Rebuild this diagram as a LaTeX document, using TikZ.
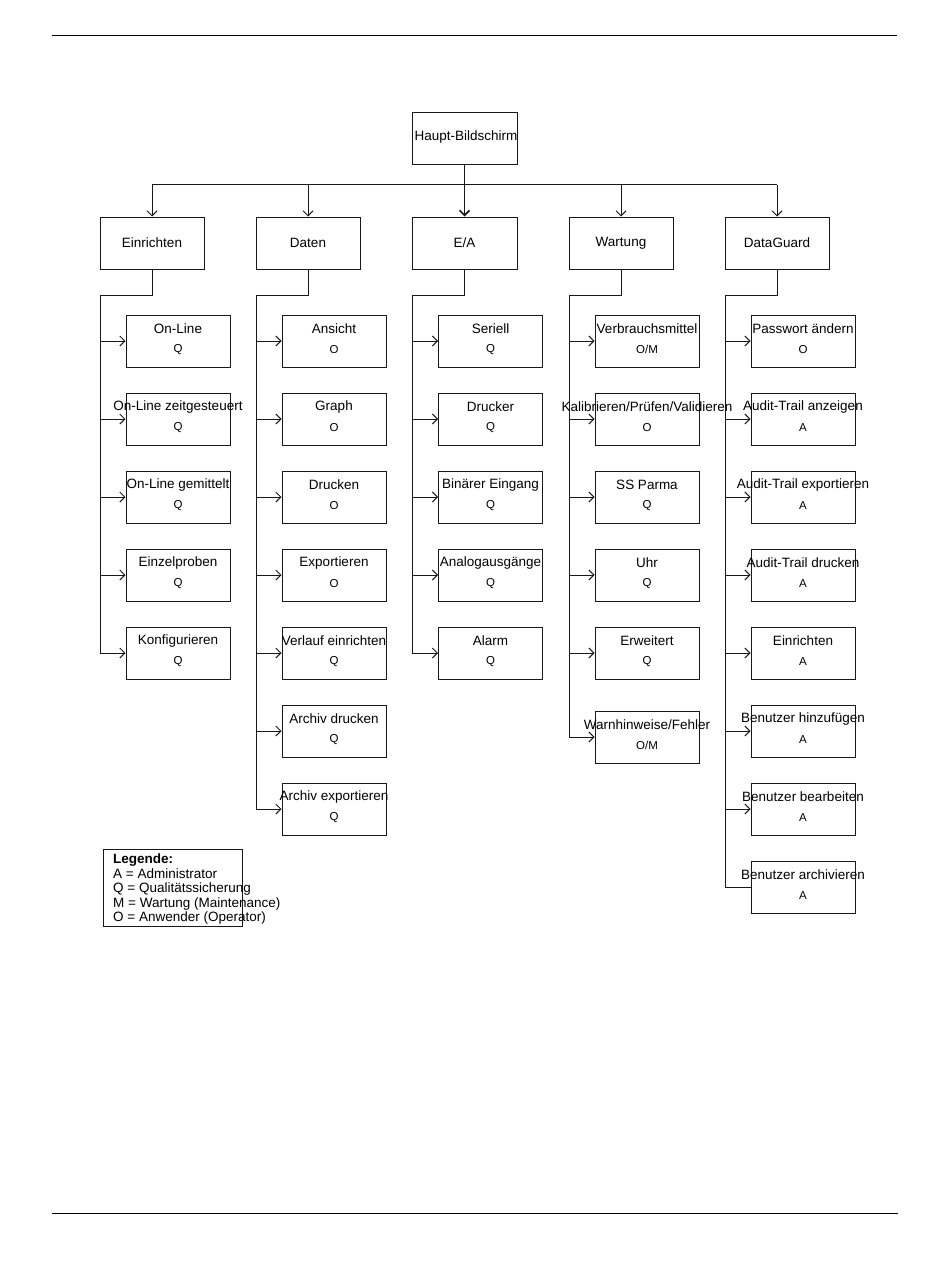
\documentclass[tikz,border=0pt]{standalone}
\usepackage{fontspec}
\setmainfont{Liberation Sans}
\usetikzlibrary{arrows.meta}
\newcommand{\cbox}[5]{%
  \node[box] (#1) at (#2+52,#3+26) {};
  \node[lab] (#1l) at (#2+52,#3+14) {#4};
  \node[role] (#1r) at (#2+52,#3+34.5) {#5};
}
\begin{document}
\begin{tikzpicture}[x=1pt,y=-1pt,
  box/.style={draw=black!90, line width=1pt, minimum width=104pt, minimum height=52pt, inner sep=0pt},
  lone/.style={box, font=\fontsize{13.5}{15}\selectfont},
  lab/.style={font=\fontsize{13.5}{15}\selectfont, inner sep=0pt},
  role/.style={font=\fontsize{11.5}{13}\selectfont, inner sep=0pt},
  conn/.style={line width=1pt, draw=black!90},
  arr/.style={conn, -{Straight Barb[length=5pt,width=10pt]}},
]
\useasboundingbox (0,0) rectangle (950,1276);
% page rules
\draw[line width=0.8pt] (52,35) -- (897,35);
\draw[line width=0.8pt] (52,1213) -- (898,1213);

% main
\node[box, minimum width=105pt] (main) at (464.5,139) {};
\node[lab] (mainl) at (466,137) {Haupt-Bildschirm};

% level 1
\node[lone] (ein) at (152,243) {Einrichten};
\node[lone] (dat) at (308,243) {Daten};
\node[lone, minimum width=105pt] (ea) at (464.5,243) {E/A};
\node[lone] (wart) at (621,243) {Wartung};
\node[lone] (dg) at (777,243) {DataGuard};

\coordinate (bus) at (464.5,185);
\draw[conn] (ein.north |- bus) -- (dg.north |- bus);
\draw[conn, line width=1.7pt] (main.south) -- (bus);
\foreach \n in {ein,dat,wart,dg} \draw[arr] (\n.north |- bus) -- (\n.north);
\draw[arr, line width=1.7pt] (bus) -- (ea.north);

% Einrichten children
\cbox{e1}{126}{315}{On-Line}{Q}
\cbox{e2}{126}{393}{On-Line zeitgesteuert}{Q}
\cbox{e3}{126}{471}{On-Line gemittelt}{Q}
\cbox{e4}{126}{549}{Einzelproben}{Q}
\cbox{e5}{126}{627}{Konfigurieren}{Q}
\coordinate (t1) at (100,295);
\draw[conn] (ein.south) |- (t1) -- (t1 |- e5.west);
\foreach \c in {e1,e2,e3,e4,e5} \draw[arr] (t1 |- \c.west) -- (\c.west);

% Daten children
\cbox{d1}{282}{315}{Ansicht}{O}
\cbox{d2}{282}{393}{Graph}{O}
\cbox{d3}{282}{471}{Drucken}{O}
\cbox{d4}{282}{549}{Exportieren}{O}
\cbox{d5}{282}{627}{Verlauf einrichten}{Q}
\cbox{d6}{282}{705}{Archiv drucken}{Q}
\cbox{d7}{282}{783}{Archiv exportieren}{Q}
\coordinate (t2) at (256,295);
\draw[conn] (dat.south) |- (t2) -- (t2 |- d7.west);
\foreach \c in {d1,d2,d3,d4,d5,d6,d7} \draw[arr] (t2 |- \c.west) -- (\c.west);

% E/A children
\cbox{a1}{438.5}{315}{Seriell}{Q}
\cbox{a2}{438.5}{393}{Drucker}{Q}
\cbox{a3}{438.5}{471}{Binärer Eingang}{Q}
\cbox{a4}{438.5}{549}{Analogausgänge}{Q}
\cbox{a5}{438.5}{627}{Alarm}{Q}
\coordinate (t3) at (412,295);
\draw[conn, line width=1.7pt] (ea.south) -- (ea.south |- t3);
\draw[conn] (ea.south |- t3) -- (t3) -- (t3 |- a5.west);
\foreach \c in {a1,a2,a3,a4,a5} \draw[arr] (t3 |- \c.west) -- (\c.west);

% Wartung children
\cbox{w1}{595}{315}{Verbrauchsmittel}{O/M}
\cbox{w2}{595}{393}{Kalibrieren/Prüfen/Validieren}{O}
\cbox{w3}{595}{471}{SS Parma}{Q}
\cbox{w4}{595}{549}{Uhr}{Q}
\cbox{w5}{595}{627}{Erweitert}{Q}
\cbox{w6}{595}{711}{Warnhinweise/Fehler}{O/M}
\coordinate (t4) at (569,295);
\draw[conn] (wart.south) |- (t4) -- (t4 |- w6.west);
\foreach \c in {w1,w2,w3,w4,w5,w6} \draw[arr] (t4 |- \c.west) -- (\c.west);

% DataGuard children
\cbox{g1}{751}{315}{Passwort ändern}{O}
\cbox{g2}{751}{393}{Audit-Trail anzeigen}{A}
\cbox{g3}{751}{471}{Audit-Trail exportieren}{A}
\cbox{g4}{751}{549}{Audit-Trail drucken}{A}
\cbox{g5}{751}{627}{Einrichten}{A}
\cbox{g6}{751}{705}{Benutzer hinzufügen}{A}
\cbox{g7}{751}{783}{Benutzer bearbeiten}{A}
\cbox{g8}{751}{861}{Benutzer archivieren}{A}
\coordinate (t5) at (725,295);
\draw[conn] (dg.south) |- (t5) -- (t5 |- g8.west) -- (g8.west);
\foreach \c in {g1,g2,g3,g4,g5,g6,g7} \draw[arr] (t5 |- \c.west) -- (\c.west);

% legend
\node[draw=black!90, line width=1pt, minimum width=139pt, minimum height=77pt, inner sep=0pt] (legbox) at (172.5,887.5) {};
\node[anchor=north west, align=left, inner sep=0pt, font=\fontsize{13.5}{14.5}\selectfont] (legtext) at (113,854) {%
\textbf{Legende:}\\
A = Administrator\\
Q = Qualitätssicherung\\
M = Wartung (Maintenance)\\
O = Anwender (Operator)};
\end{tikzpicture}
\end{document}
